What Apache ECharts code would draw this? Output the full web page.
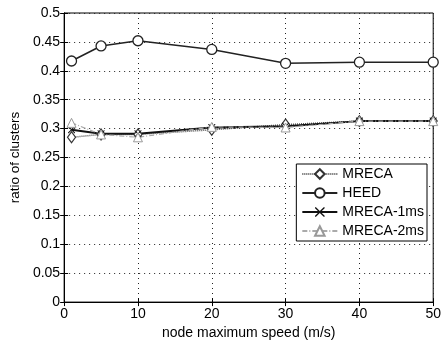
<!DOCTYPE html>
<html>
<head>
<meta charset="utf-8">
<script src="https://cdn.jsdelivr.net/npm/echarts@6/dist/echarts.min.js"></script>
<style>
  html, body { margin: 0; padding: 0; background: #fff; }
  #chart { width: 444px; height: 345px; }
</style>
</head>
<body>
<div id="chart"></div>
<script>
// node maximum speed (m/s)
const speeds = [1, 5, 10, 20, 30, 40, 50];

// ratio of clusters
const mreca     = [0.285, 0.290, 0.290, 0.298, 0.307, 0.313, 0.313];
const heed      = [0.417, 0.443, 0.452, 0.437, 0.413, 0.415, 0.415];
const mreca1ms  = [0.298, 0.291, 0.291, 0.302, 0.304, 0.313, 0.313];
const mreca2ms  = [0.310, 0.290, 0.285, 0.303, 0.302, 0.313, 0.313];

const xTicks = [0, 10, 20, 30, 40, 50];
const yTicks = ['0', '0.05', '0.1', '0.15', '0.2', '0.25', '0.3', '0.35', '0.4', '0.45', '0.5'];

const font = 'Liberation Sans, Arial, sans-serif';
// thin "x" marker
const crossPath = 'path://M0,0L1,0L5,4L9,0L10,0L10,1L6,5L10,9L10,10L9,10L5,6L1,10L0,10L0,9L4,5L0,1Z';

const pair = (ys) => speeds.map((x, i) => [x, ys[i]]);

const chart = echarts.init(document.getElementById('chart'));

const gridLine = { show: true, lineStyle: { color: '#222', type: [1, 4], width: 1 } };

chart.setOption({
  animation: false,
  backgroundColor: '#fff',
  textStyle: { fontFamily: font },
  grid: { left: 60, right: 9, top: 13, bottom: 38, show: true, borderColor: '#000', borderWidth: 1 },
  legend: {
    orient: 'vertical',
    right: 17,
    top: 164,
    backgroundColor: '#fff',
    borderColor: '#000',
    borderWidth: 1,
    padding: [3, 3, 3, 5],
    itemGap: 5,
    itemWidth: 35,
    itemHeight: 12,
    textStyle: { fontFamily: font, fontSize: 14, color: '#000' },
    data: ['MRECA', 'HEED', 'MRECA-1ms', 'MRECA-2ms']
  },
  xAxis: [{
    type: 'value',
    min: 0, max: 50, interval: 10,
    name: 'node maximum speed (m/s)',
    nameLocation: 'middle',
    nameGap: 20,
    nameTextStyle: { fontFamily: font, fontSize: 14, color: '#000' },
    axisLine: { show: true, lineStyle: { color: '#000' } },
    axisTick: { show: true, inside: true, length: 4, lineStyle: { color: '#000' } },
    axisLabel: { fontFamily: font, fontSize: 14, color: '#000', margin: 5, formatter: (v) => xTicks.includes(v) ? String(v) : '' },
    splitLine: gridLine
  }, {
    type: 'value', position: 'top',
    min: 0, max: 50, interval: 10,
    axisLine: { show: true, lineStyle: { color: '#000' } },
    axisTick: { show: true, inside: true, length: 4, lineStyle: { color: '#000' } },
    axisLabel: { show: false },
    splitLine: { show: false }
  }],
  yAxis: [{
    type: 'value',
    min: 0, max: 0.5, interval: 0.05,
    name: 'ratio of clusters',
    nameLocation: 'middle',
    nameGap: 36,
    nameTextStyle: { fontFamily: font, fontSize: 13.5, color: '#000' },
    axisLine: { show: true, lineStyle: { color: '#000' } },
    axisTick: { show: true, inside: true, length: 4, lineStyle: { color: '#000' } },
    axisLabel: { fontFamily: font, fontSize: 14, color: '#000', margin: 4, formatter: (v) => yTicks[Math.round(v / 0.05)] },
    splitLine: gridLine
  }, {
    type: 'value', position: 'right',
    min: 0, max: 0.5, interval: 0.05,
    axisLine: { show: true, lineStyle: { color: '#000' } },
    axisTick: { show: true, inside: true, length: 4, lineStyle: { color: '#000' } },
    axisLabel: { show: false },
    splitLine: { show: false }
  }],
  series: [
    {
      name: 'MRECA', type: 'line', data: pair(mreca),
      symbol: 'diamond', symbolSize: [8, 11],
      lineStyle: { color: '#555', width: 1.5, type: [1, 1] },
      itemStyle: { color: '#fff', borderColor: '#333', borderWidth: 1.2 }
    },
    {
      name: 'HEED', type: 'line', data: pair(heed),
      symbol: 'circle', symbolSize: 10,
      lineStyle: { color: '#222', width: 1.5 },
      itemStyle: { color: '#fff', borderColor: '#222', borderWidth: 1.3 }
    },
    {
      name: 'MRECA-1ms', type: 'line', data: pair(mreca1ms),
      symbol: crossPath, symbolSize: 7,
      lineStyle: { color: '#111', width: 2 },
      itemStyle: { color: '#111', borderWidth: 0 }
    },
    {
      name: 'MRECA-2ms', type: 'line', data: pair(mreca2ms),
      symbol: 'triangle', symbolSize: 9,
      lineStyle: { color: '#aaa', width: 1.2, type: [5, 2, 1, 2] },
      itemStyle: { color: '#fff', borderColor: '#999', borderWidth: 1 }
    }
  ]
});
</script>
</body>
</html>
